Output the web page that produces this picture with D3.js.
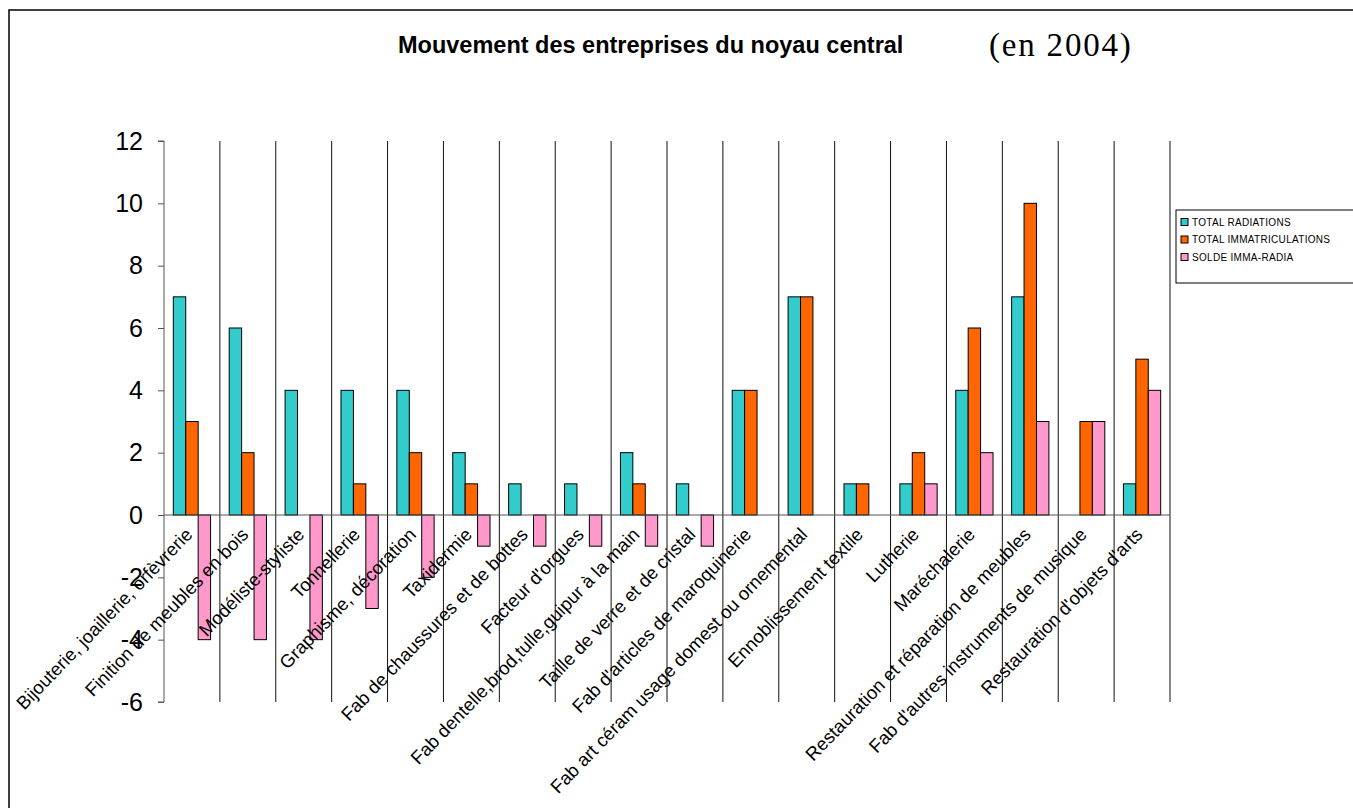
<!DOCTYPE html>
<html>
<head>
<meta charset="utf-8">
<script src="https://cdn.jsdelivr.net/npm/d3@7"></script>
<style>
    body { margin: 0; background: #fff; }
    svg { display: block; font-family: Arial, "Liberation Sans", sans-serif; }
</style>
</head>
<body>
<div id="chart"></div>
<script>
// Chart data
const categories = [
    "Bijouterie, joaillerie, orfèvrerie",
    "Finition de meubles en bois",
    "Modéliste-styliste",
    "Tonnellerie",
    "Graphisme, décoration",
    "Taxidermie",
    "Fab de chaussures et de bottes",
    "Facteur d'orgues",
    "Fab dentelle,brod,tulle,guipur à la main",
    "Taille de verre et de cristal",
    "Fab d'articles de maroquinerie",
    "Fab art céram usage domest ou ornemental",
    "Ennoblissement textile",
    "Lutherie",
    "Maréchalerie",
    "Restauration et réparation de meubles",
    "Fab d'autres instruments de musique",
    "Restauration d'objets d'arts"
];
const seriesNames = ["TOTAL RADIATIONS", "TOTAL IMMATRICULATIONS", "SOLDE IMMA-RADIA"];
const radiations       = [7, 6, 4, 4, 4, 2, 1, 1, 2, 1, 4, 7, 1, 1, 4, 7, 0, 1];
const immatriculations = [3, 2, 0, 1, 2, 1, 0, 0, 1, 0, 4, 7, 1, 2, 6, 10, 3, 5];
const solde            = [-4, -4, -4, -3, -2, -1, -1, -1, -1, -1, 0, 0, 0, 1, 2, 3, 3, 4];
const yTicks = [-6, -4, -2, 0, 2, 4, 6, 8, 10, 12];
const colors = ["#33CCCC", "#FF6600", "#FF99CC"];

const W = 1353, H = 808;
const plot = { left: 164, right: 1170, top: 141, bottom: 702 };

const svg = d3.select("#chart").append("svg")
    .attr("width", W)
    .attr("height", H);

// outer chart frame (right/bottom fall outside the picture)
svg.append("rect")
    .attr("x", 9).attr("y", 10)
    .attr("width", W + 20).attr("height", H + 20)
    .attr("fill", "none")
    .attr("stroke", "#000")
    .attr("stroke-width", 1.5);

// Title
svg.append("text")
    .attr("x", 398)
    .attr("y", 53)
    .attr("font-size", 23.5)
    .attr("font-weight", "bold")
    .text("Mouvement des entreprises du noyau central");

svg.append("text")
    .attr("x", 989)
    .attr("y", 56)
    .attr("font-family", "'Liberation Serif', 'Times New Roman', serif")
    .attr("font-size", 33)
    .attr("letter-spacing", 1.8)
    .text("(en 2004)");

// Scales
const x = d3.scaleBand()
    .domain(d3.range(categories.length))
    .range([plot.left, plot.right]);

const xInner = d3.scaleBand()
    .domain(d3.range(seriesNames.length))
    .range([0, x.bandwidth()])
    .paddingInner(0)
    .paddingOuter(0.75);

const y = d3.scaleLinear()
    .domain([-6, 12])
    .range([plot.bottom, plot.top]);

// vertical gridlines at category boundaries
const bounds = d3.range(categories.length + 1).map(i => plot.left + i * x.step());
svg.append("g")
    .selectAll("line")
    .data(bounds.slice(1))
    .join("line")
    .attr("x1", d => d).attr("x2", d => d)
    .attr("y1", plot.top).attr("y2", plot.bottom)
    .attr("stroke", "#111")
    .attr("stroke-width", 1);

// Y axis
const yAxis = d3.axisLeft(y)
    .tickValues(yTicks)
    .tickSize(6)
    .tickPadding(15)
    .tickFormat(d => String(d));

const yG = svg.append("g")
    .attr("transform", `translate(${plot.left},0)`)
    .call(yAxis);
yG.select(".domain").attr("stroke", "#555").attr("d", `M-6,${plot.top}H0V${plot.bottom}H-6`);
yG.selectAll(".tick line").attr("stroke", "#555");
yG.selectAll(".tick text")
    .attr("font-size", 25)
    .attr("font-family", "Arial, 'Liberation Sans', sans-serif")
    .attr("fill", "#000");

// Bars
const series = [radiations, immatriculations, solde];
const barData = [];
series.forEach((vals, s) => {
    vals.forEach((v, i) => {
        if (v !== 0) barData.push({ i, s, v });
    });
});

svg.append("g")
    .selectAll("rect")
    .data(barData)
    .join("rect")
    .attr("x", d => x(d.i) + xInner(d.s))
    .attr("width", xInner.bandwidth())
    .attr("y", d => y(Math.max(0, d.v)))
    .attr("height", d => Math.abs(y(d.v) - y(0)))
    .attr("fill", d => colors[d.s])
    .attr("stroke", "#000")
    .attr("stroke-width", 1);

// zero line (category axis)
svg.append("line")
    .attr("x1", plot.left).attr("x2", plot.right)
    .attr("y1", y(0)).attr("y2", y(0))
    .attr("stroke", "#555")
    .attr("stroke-width", 1.2);

// Category labels, rotated -45 deg, ending under each category
svg.append("g")
    .selectAll("text")
    .data(categories)
    .join("text")
    .attr("transform", (d, i) => `translate(${x(i) + x.bandwidth() / 2 - 3},${y(0) + 16}) rotate(-46)`)
    .attr("text-anchor", "end")
    .attr("dy", "0.35em")
    .attr("font-size", 18.5)
    .text(d => d);

// Legend
const legend = svg.append("g").attr("transform", "translate(1176,210)");
legend.append("rect")
    .attr("width", 220).attr("height", 73)
    .attr("fill", "#fff")
    .attr("stroke", "#000")
    .attr("stroke-width", 1);

const items = legend.selectAll("g")
    .data(seriesNames)
    .join("g")
    .attr("transform", (d, i) => `translate(5,${12 + i * 17.5})`);

items.append("rect")
    .attr("x", 0).attr("y", -3.5)
    .attr("width", 7).attr("height", 7)
    .attr("fill", (d, i) => colors[i])
    .attr("stroke", "#000")
    .attr("stroke-width", 1);

items.append("text")
    .attr("x", 11)
    .attr("dy", "0.36em")
    .attr("font-size", 10)
    .attr("letter-spacing", 0.3)
    .text(d => d);
</script>
</body>
</html>
